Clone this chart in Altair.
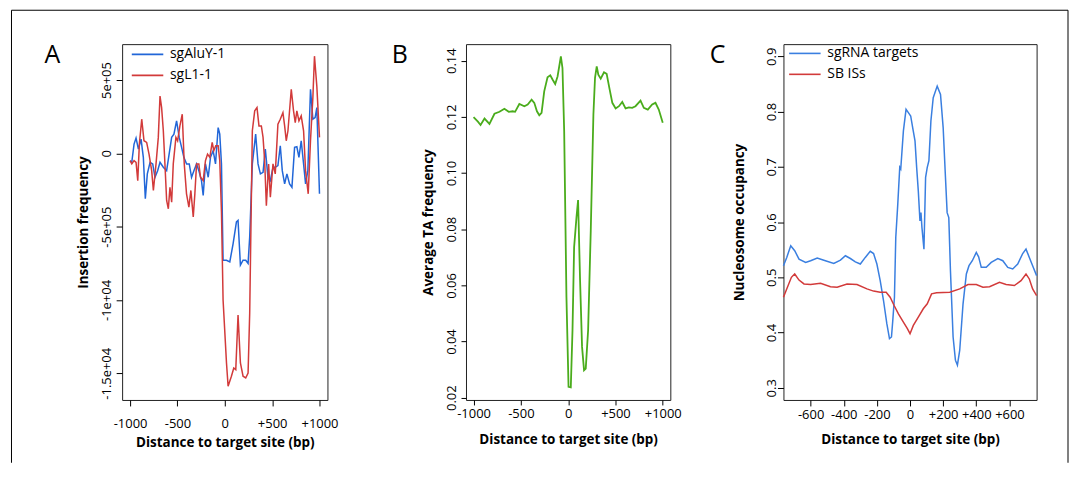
import altair as alt
import pandas as pd

FONT = "Open Sans"

# ---------------- Panel A: insertion frequency ----------------
A_ALU_X = [-1000, -982, -958, -937, -912, -884, -860, -839, -818, -789, -761, -737, -709, -684,
           -649, -614, -561, -537, -509, -481, -456, -432, -403, -375, -351, -326, -298, -274,
           -246, -228, -204, -175, -151, -123, -98, -70, -53, -35, -18, 18, 53, 88, 123, 140,
           165, 193, 221, 246, 263, 291, 326, 351, 376, 404, 428, 456, 481, 509, 533, 561, 586,
           607, 632, 656, 684, 709, 737, 761, 783, 807, 832, 853, 877, 905, 930, 954, 972, 1000]
A_ALU_Y = [-0.050, -0.061, 0.063, 0.104, 0.029, 0.097, -0.027, -0.310, -0.140, -0.061, -0.072,
           -0.163, -0.118, -0.061, -0.095, -0.118, 0.109, 0.131, 0.222, 0.109, 0.041, -0.027,
           -0.072, -0.072, -0.163, -0.118, -0.072, -0.118, -0.186, -0.287, -0.072, -0.163,
           -0.027, 0.018, -0.072, 0.176, 0.131, -0.072, -0.729, -0.729, -0.740, -0.615, -0.468,
           -0.457, -0.762, -0.729, -0.729, -0.751, -0.570, -0.072, 0.131, -0.072, -0.140, -0.129,
           0.029, -0.163, -0.186, -0.095, -0.095, -0.084, 0.052, -0.118, -0.208, -0.140, -0.208,
           -0.231, 0.041, 0.045, -0.027, 0.086, -0.072, -0.208, -0.118, 0.437, 0.233, 0.244,
           0.312, -0.276]

A_L1_X = [-1000, -982, -958, -937, -919, -902, -877, -853, -825, -800, -772, -754, -726, -702,
          -684, -667, -649, -632, -614, -596, -579, -561, -544, -516, -498, -474, -449, -428,
          -404, -379, -358, -333, -316, -298, -274, -256, -228, -204, -182, -158, -133, -116,
          -95, -70, -53, -35, -18, 18, 35, 70, 95, 116, 140, 165, 193, 221, 246, 263, 291, 316,
          340, 361, 386, 404, 421, 439, 463, 481, 509, 533, 561, 586, 614, 632, 649, 667, 702,
          726, 744, 761, 783, 807, 832, 853, 881, 905, 930, 947, 972, 1000]
A_L1_Y = [-0.050, -0.072, -0.050, -0.061, -0.186, 0.063, 0.233, 0.086, 0.075, -0.005, -0.118,
          -0.253, -0.072, 0.109, 0.391, 0.312, 0.154, -0.072, -0.321, -0.378, -0.231, -0.333,
          -0.072, 0.109, 0.086, 0.187, 0.267, -0.072, -0.276, -0.367, -0.253, -0.434, -0.276,
          -0.072, -0.072, -0.163, -0.186, -0.050, -0.005, -0.027, 0.075, 0.018, 0.052, 0.052,
          -0.050, -0.400, -1.000, -1.430, -1.588, -1.520, -1.464, -1.475, -1.102, -1.430, -1.520,
          -1.532, -1.498, -1.090, 0.154, 0.290, 0.312, 0.187, 0.187, 0.109, -0.050, -0.357,
          -0.072, -0.299, -0.072, -0.140, 0.199, 0.233, 0.278, 0.187, 0.086, 0.154, 0.437, 0.290,
          0.210, 0.290, 0.222, 0.256, 0.154, -0.118, -0.276, 0.086, 0.380, 0.663, 0.457, 0.109]

A_SERIES = ["sgAluY-1", "sgL1-1"]
A_YTICKS = [0.5, 0, -0.5, -1, -1.5]
A_YLABELS = ["5e+05", "0", "-5e+05", "-1e+04", "-1.5e+04"]
A_XTICKS = [-1000, -500, 0, 500, 1000]

# ---------------- Panel B: average TA frequency ----------------
B_X = [-1000, -954, -926, -884, -832, -779, -726, -674, -628, -586, -561, -516, -463, -428, -386,
       -358, -330, -305, -281, -253, -218, -189, -165, -137, -112, -77, -60, -42, -18, 4, 28, 46,
       63, 88, 105, 126, 147, 168, 186, 211, 239, 267, 284, 302, 319, 344, 379, 407, 439, 467,
       502, 537, 572, 607, 642, 677, 712, 765, 800, 842, 888, 923, 958, 1000]
B_Y = [0.1199, 0.1183, 0.1171, 0.1194, 0.1175, 0.1211, 0.1218, 0.1229, 0.1218, 0.1220, 0.1218,
       0.1246, 0.1238, 0.1244, 0.1261, 0.1250, 0.1220, 0.1206, 0.1214, 0.1291, 0.1341, 0.1348,
       0.1333, 0.1317, 0.1344, 0.1415, 0.1374, 0.1149, 0.0558, 0.0239, 0.0237, 0.0440, 0.0736,
       0.0842, 0.0904, 0.0618, 0.0381, 0.0298, 0.0304, 0.0440, 0.0795, 0.1209, 0.1339, 0.1380,
       0.1350, 0.1336, 0.1359, 0.1353, 0.1297, 0.1250, 0.1230, 0.1238, 0.1253, 0.1230, 0.1234,
       0.1232, 0.1238, 0.1258, 0.1232, 0.1226, 0.1244, 0.1250, 0.1226, 0.1179]
B_YTICKS = [0.02, 0.04, 0.06, 0.08, 0.10, 0.12, 0.14]
B_XTICKS = [-1000, -500, 0, 500, 1000]

# ---------------- Panel C: nucleosome occupancy ----------------
C_SG_X = [-764, -744, -720, -696, -670, -630, -600, -560, -520, -460, -420, -390, -360, -330,
          -300, -270, -240, -220, -200, -180, -160, -140, -124, -112, -104, -94, -86, -74, -62,
          -56, -40, -24, -10, 4, 16, 30, 40, 50, 60, 66, 72, 84, 94, 104, 114, 126, 140, 164, 184,
          200, 212, 224, 234, 244, 260, 274, 286, 300, 320, 340, 356, 376, 400, 414, 430, 460,
          490, 530, 560, 590, 620, 650, 680, 700, 720, 740, 764]
C_SG_Y = [0.521, 0.536, 0.557, 0.548, 0.533, 0.527, 0.530, 0.535, 0.531, 0.525, 0.531, 0.539,
          0.534, 0.528, 0.524, 0.536, 0.547, 0.543, 0.524, 0.494, 0.458, 0.416, 0.389, 0.392,
          0.422, 0.464, 0.572, 0.632, 0.699, 0.696, 0.765, 0.804, 0.798, 0.792, 0.771, 0.747,
          0.699, 0.656, 0.602, 0.617, 0.590, 0.551, 0.681, 0.699, 0.711, 0.783, 0.825, 0.846,
          0.831, 0.771, 0.693, 0.617, 0.608, 0.512, 0.392, 0.350, 0.341, 0.368, 0.452, 0.506,
          0.521, 0.530, 0.545, 0.537, 0.518, 0.518, 0.527, 0.534, 0.530, 0.518, 0.515, 0.524,
          0.543, 0.551, 0.536, 0.521, 0.503]

C_SB_X = [-764, -740, -716, -696, -670, -640, -600, -540, -480, -440, -380, -320, -260, -220,
          -180, -144, -120, -96, -70, -40, -16, 0, 20, 50, 80, 104, 130, 160, 240, 300, 350, 400,
          440, 480, 540, 580, 630, 670, 700, 720, 740, 764]
C_SB_Y = [0.464, 0.482, 0.500, 0.506, 0.495, 0.488, 0.487, 0.489, 0.483, 0.482, 0.488, 0.487,
          0.479, 0.475, 0.473, 0.473, 0.464, 0.449, 0.434, 0.419, 0.407, 0.398, 0.413, 0.428,
          0.443, 0.452, 0.470, 0.472, 0.473, 0.479, 0.487, 0.487, 0.482, 0.483, 0.491, 0.487,
          0.485, 0.494, 0.506, 0.497, 0.479, 0.467]
C_SERIES = ["sgRNA targets", "SB ISs"]
C_YTICKS = [0.3, 0.4, 0.5, 0.6, 0.7, 0.8, 0.9]
C_XTICKS = [-600, -400, -200, 0, 200, 400, 600]

X_TITLE = "Distance to target site (bp)"

BLUE_A = "#2166d8"
RED = "#d23a3a"
GREEN = "#4aac1c"
BLUE_C = "#3a7fe0"

PLUS_EXPR = "datum.value > 0 ? '+' + datum.value : '' + datum.value"


def x_axis(values, tick, pad, title_y):
    return alt.Axis(values=values, labelExpr=PLUS_EXPR, tickSize=tick, tickColor="black",
                    tickWidth=1, domain=False, grid=False, labelFont=FONT, labelFontSize=13,
                    labelColor="black", labelBaseline="middle", labelPadding=pad,
                    labelFlush=False, labelOverlap=False, title=X_TITLE, titleFont=FONT,
                    titleFontSize=13.5, titleFontWeight="bold", titleColor="black",
                    titleBaseline="middle", titleY=title_y)


def y_axis(values, expr, tick, pad, title, title_x, h):
    return alt.Axis(values=values, labelExpr=expr, tickSize=tick, tickColor="black",
                    tickWidth=1, domain=False, grid=False, labelFont=FONT, labelFontSize=13,
                    labelColor="black", labelAngle=270, labelAlign="center",
                    labelBaseline="middle", labelPadding=pad, labelFlush=False,
                    labelOverlap=False, title=title, titleFont=FONT, titleFontSize=13.5,
                    titleFontWeight="bold", titleColor="black", titleAngle=270,
                    titleAlign="center", titleBaseline="middle", titleX=title_x, titleY=h / 2)


def line_layer(xs, ys, color, xscale, yscale, xax, yax, sw):
    df = pd.DataFrame({"bp": xs, "v": ys})
    return alt.Chart(df).mark_line(color=color, strokeWidth=sw).encode(
        x=alt.X("bp:Q", scale=xscale, axis=xax),
        y=alt.Y("v:Q", scale=yscale, axis=yax),
        order="bp:Q",
    )


def legend_layers(names, colors, x0, x1, y0, dy, tx):
    layers = []
    for i, (n, c) in enumerate(zip(names, colors)):
        d = pd.DataFrame({"name": [n]})
        layers.append(alt.Chart(d).mark_rule(color=c, strokeWidth=1.6).encode(
            x=alt.value(x0), x2=alt.value(x1), y=alt.value(y0 + i * dy)))
        layers.append(alt.Chart(d).mark_text(font=FONT, fontSize=14, color="black",
                                             align="left", baseline="middle").encode(
            text="name:N", x=alt.value(tx), y=alt.value(y0 + i * dy)))
    return layers


def letter_layer(letter, x, y):
    d = pd.DataFrame({"t": [letter]})
    return alt.Chart(d).mark_text(font=FONT, fontSize=25, color="black", align="center",
                                  baseline="middle").encode(
        text="t:N", x=alt.value(x), y=alt.value(y))


H = 357

# ---- Panel A
WA = 206
a_expr = " : ".join(f"datum.value == {v} ? '{l}'" for v, l in zip(A_YTICKS, A_YLABELS)) + " : ''"
a_xs = alt.Scale(domain=[-1084, 1084], nice=False, zero=False)
a_ys = alt.Scale(domain=[-1.682, 0.745], nice=False, zero=False)
a_xax = x_axis(A_XTICKS, 6, 17.5, 43)
a_yax = y_axis(A_YTICKS, a_expr, 6, 10, "Insertion frequency", -38.7, H)

frame_d = pd.DataFrame({"k": [0]})
frame = [
    alt.Chart(frame_d).mark_rule(color="black", strokeWidth=1).encode(
        x=alt.value(-111), y=alt.value(-34), y2=alt.value(420)),
    alt.Chart(frame_d).mark_rule(color="black", strokeWidth=1).encode(
        x=alt.value(-111), x2=alt.value(949), y=alt.value(-34)),
    alt.Chart(frame_d).mark_rule(color="black", strokeWidth=1).encode(
        x=alt.value(949), y=alt.value(-34), y2=alt.value(420)),
]

panelA = alt.layer(
    line_layer(A_ALU_X, A_ALU_Y, BLUE_A, a_xs, a_ys, a_xax, a_yax, 1.5),
    line_layer(A_L1_X, A_L1_Y, RED, a_xs, a_ys, a_xax, a_yax, 1.5),
    *legend_layers(A_SERIES, [BLUE_A, RED], 9.7, 41.3, 10.3, 21, 48),
    letter_layer("A", -70, 11),
    *frame,
).properties(width=WA, height=H)

# ---- Panel B
WB = 205
b_expr = "format(datum.value, '.2f')"
b_xs = alt.Scale(domain=[-1080, 1080], nice=False, zero=False)
b_ys = alt.Scale(domain=[0.0192, 0.1459], nice=False, zero=False)
b_xax = x_axis(B_XTICKS, 5, 9, 40)
b_yax = y_axis(B_YTICKS, b_expr, 5, 9.5, "Average TA frequency", -38, H)

panelB = alt.layer(
    line_layer(B_X, B_Y, GREEN, b_xs, b_ys, b_xax, b_yax, 1.8),
    letter_layer("B", -66.5, 11),
).properties(width=WB, height=H)

# ---- Panel C
WC = 254
c_expr = "format(datum.value, '.1f')"
c_xs = alt.Scale(domain=[-764, 764], nice=False, zero=False)
c_ys = alt.Scale(domain=[0.278, 0.922], nice=False, zero=False)
c_xax = x_axis(C_XTICKS, 6, 9, 39.5)
c_yax = y_axis(C_YTICKS, c_expr, 6, 6, "Nucleosome occupancy", -44.3, H)

panelC = alt.layer(
    line_layer(C_SG_X, C_SG_Y, BLUE_C, c_xs, c_ys, c_xax, c_yax, 1.5),
    line_layer(C_SB_X, C_SB_Y, RED, c_xs, c_ys, c_xax, c_yax, 1.5),
    *legend_layers(C_SERIES, [BLUE_C, RED], 5.7, 37.3, 9.3, 21, 44),
    letter_layer("C", -66, 11),
).properties(width=WC, height=H)

right = alt.hconcat(panelB, panelC, spacing=113.5, bounds="flush")
chart = alt.hconcat(panelA, right, spacing=139, bounds="flush").properties(
    padding={"left": 2.5, "top": 0.5, "right": 0, "bottom": 0}
).configure_view(stroke="#222222", strokeWidth=1)

chart.save("out.html", embed_options={"renderer": "svg", "actions": False})
